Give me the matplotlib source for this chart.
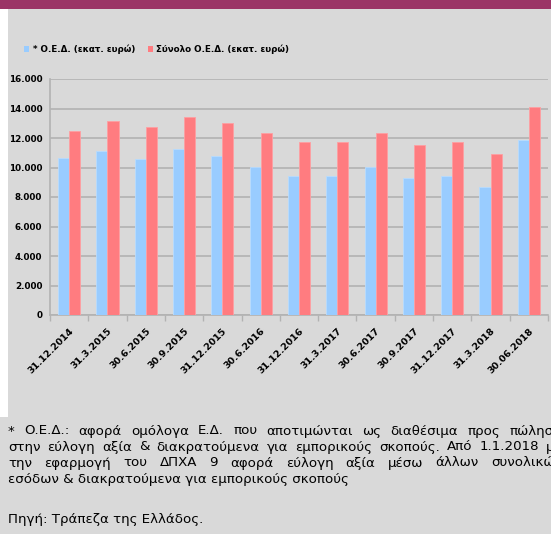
import numpy as np
import matplotlib.pyplot as plt
from matplotlib.patches import Rectangle
from matplotlib.ticker import FuncFormatter

# data (million euro)
dates = ["31.12.2014", "31.3.2015", "30.6.2015", "30.9.2015", "31.12.2015",
         "30.6.2016", "31.12.2016", "31.3.2017", "30.6.2017", "30.9.2017",
         "31.12.2017", "31.3.2018", "30.06.2018"]
oed = [10620, 11100, 10560, 11250, 10780, 10030, 9420, 9400, 10060, 9290,
       9400, 8700, 11890]
total = [12500, 13150, 12770, 13420, 13000, 12360, 11750, 11710, 12360, 11530,
         11750, 10890, 14080]

legend_labels = ["* Ο.Ε.Δ. (εκατ. ευρώ)", "Σύνολο Ο.Ε.Δ. (εκατ. ευρώ)"]
note_lines = [
    "* Ο.Ε.Δ.: αφορά ομόλογα Ε.Δ. που αποτιμώνται ως διαθέσιμα προς πώληση",
    "στην εύλογη αξία & διακρατούμενα για εμπορικούς σκοπούς. Από 1.1.2018 με",
    "την εφαρμογή του ΔΠΧΑ 9 αφορά εύλογη αξία μέσω άλλων συνολικών",
    "εσόδων & διακρατούμενα για εμπορικούς σκοπούς",
]
source = "Πηγή: Τράπεζα της Ελλάδος."

W, H = 551, 534
bg = "#d9d9d9"
blue = "#99ccff"
red = "#ff7c80"
grid_c = "#b2b2b2"

fig = plt.figure(figsize=(W / 100, H / 100), dpi=100)
fig.patch.set_facecolor(bg)

# white strip on the left of the chart box and purple header band
fig.patches.append(Rectangle((0, 1 - 417 / H), 8 / W, 408 / H, transform=fig.transFigure,
                             facecolor="white", edgecolor="none", zorder=0))
fig.patches.append(Rectangle((0, 1 - 9 / H), 1, 9 / H, transform=fig.transFigure,
                             facecolor="#9b3466", edgecolor="none", zorder=0))

ax = fig.add_axes([50 / W, 1 - 315 / H, 498 / W, 236 / H])
ax.set_facecolor(bg)

x = np.arange(len(dates))
bw = 0.29
ax.bar(x - bw / 2, oed, bw, color=blue, edgecolor="#b8dcff", linewidth=0.6, zorder=3)
ax.bar(x + bw / 2, total, bw, color=red, edgecolor="#ff9fa2", linewidth=0.6, zorder=3)

ax.set_xlim(-0.5, len(dates) - 0.5)
ax.set_ylim(0, 16000)
ax.set_yticks(np.arange(0, 16001, 2000))
ax.yaxis.set_major_formatter(FuncFormatter(lambda v, p: f"{int(v):,}".replace(",", ".")))
ax.yaxis.grid(True, color=grid_c, linewidth=1.2, zorder=0)
ax.tick_params(axis="y", length=0, pad=5.5, labelsize=6.3)
for lab in ax.get_yticklabels():
    lab.set_fontweight("bold")

ax.set_xticks(np.arange(-0.5, len(dates), 1.0))
ax.set_xticklabels([])
ax.tick_params(axis="x", which="major", length=4, color=grid_c, width=1)
ax.set_xticks(x, minor=True)
ax.set_xticklabels(dates, minor=True, rotation=45, ha="right", rotation_mode="anchor",
                   fontsize=6.8, fontweight="bold")
ax.tick_params(axis="x", which="minor", length=0, pad=8)

for s in ["top", "right"]:
    ax.spines[s].set_visible(False)
for s in ["left", "bottom"]:
    ax.spines[s].set_color(grid_c)
    ax.spines[s].set_linewidth(1.2)

# legend drawn by hand to match the compact layout
ly = 1 - 49 / H
fig.patches.append(Rectangle((24 / W, ly - 2.5 / H), 5 / W, 5 / H, transform=fig.transFigure,
                             facecolor=blue, edgecolor="none"))
fig.text(33 / W, ly, legend_labels[0], fontsize=6.3, fontweight="bold", va="center")
fig.patches.append(Rectangle((148 / W, ly - 2.5 / H), 5 / W, 5 / H, transform=fig.transFigure,
                             facecolor=red, edgecolor="none"))
fig.text(156 / W, ly, legend_labels[1], fontsize=6.3, fontweight="bold", va="center")

# footnote, first three lines justified to the right edge
fig.canvas.draw()
renderer = fig.canvas.get_renderer()
note_fs = 9.6
right_px = 562
ys = [431, 447, 463, 479]
for i, line in enumerate(note_lines):
    y = 1 - ys[i] / H
    if i < 3:
        words = line.split(" ")
        widths = []
        for w in words:
            t = fig.text(0, 0, w, fontsize=note_fs)
            widths.append(t.get_window_extent(renderer).width)
            t.remove()
        gap = (right_px - 8 - sum(widths)) / (len(words) - 1)
        xp = 8
        for w, wd in zip(words, widths):
            fig.text(xp / W, y, w, fontsize=note_fs, va="center")
            xp += wd + gap
    else:
        fig.text(8 / W, y, line, fontsize=note_fs, va="center")
fig.text(8 / W, 1 - 520 / H, source, fontsize=note_fs, va="center")

fig.savefig("out.png", dpi=100, facecolor=fig.get_facecolor())
